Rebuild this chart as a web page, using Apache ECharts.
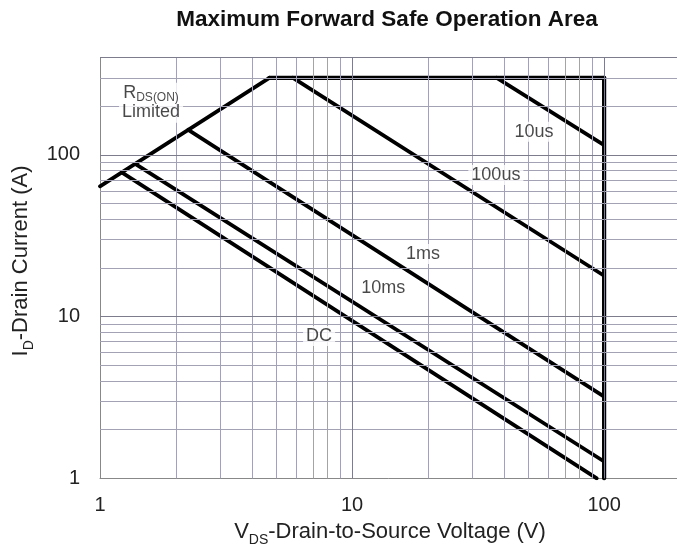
<!DOCTYPE html>
<html><head><meta charset="utf-8">
<script src="https://cdn.jsdelivr.net/npm/echarts@6/dist/echarts.min.js"></script>
<style>html,body{margin:0;padding:0;background:#fff}#c{width:677px;height:553px}</style>
</head><body><div id="c"></div>
<script>
// Axis tick labels
const xTickLabels = [1, 10, 100];
const yTickLabels = [1, 10, 100];
// Grid lines (log paper)
const xGridMinor = [2, 3, 4, 5, 6, 7, 8, 9, 20, 30, 40, 50, 60, 70, 80, 90];
const xGridMajor = [10, 100];
const yGridMinor = [2, 3, 4, 5, 6, 7, 8, 9, 20, 30, 40, 50, 60, 70, 80, 90, 200, 300];
const yGridMajor = [10, 100, 400];

// SOA boundary lines [V, A]
const rdsLimit = [[1, 64], [4.7, 300]];
const currentLimit = [[4.7, 300], [100, 300]];
const voltageLimit = [[100, 300], [100, 1]];
const pulse10us = [[37.5, 300], [100, 115]];
const pulse100us = [[5.83, 300], [100, 17.9]];
const pulse1ms = [[2.24, 143], [100, 3.2]];
const pulse10ms = [[1.38, 88], [100, 1.27]];
const dcLine = [[1.22, 78], [93.5, 1]];

// Curve annotations [V, A, text]
const curveLabels = [
  [52.7, 139, '10us'],
  [37.2, 75.2, '100us'],
  [19.1, 24.4, '1ms'],
  [13.3, 15.0, '10ms'],
  [7.4, 7.6, 'DC'],
  [1.594, 210, 'RDS']
];

const FONT = '"Liberation Sans", Arial, Helvetica, sans-serif';
const chart = echarts.init(document.getElementById('c'), null, {renderer: 'canvas'});

function gridSeries(vals, axis, color) {
  return {
    type: 'line', data: [], silent: true, z: 1,
    markLine: {
      silent: true, symbol: ['none', 'none'], animation: false,
      label: {show: false},
      lineStyle: {type: 'solid', width: 1, color: color},
      data: vals.map(v => (axis === 'x' ? {xAxis: v} : {yAxis: v}))
    }
  };
}
function curve(d, w) {
  return {
    type: 'line', data: d, symbol: 'none', z: 3, silent: true,
    lineStyle: {color: '#000', width: w || 3.8, cap: 'round', join: 'round'}
  };
}
const isTick = (list) => (v) => {
  const r = Math.round(v);
  return list.indexOf(r) >= 0 && Math.abs(v - r) < 1e-6 ? String(r) : '';
};

chart.setOption({
  animation: false,
  backgroundColor: '#fff',
  title: {
    text: 'Maximum Forward Safe Operation Area',
    left: 382, top: 3, textAlign: 'center',
    textStyle: {fontFamily: FONT, fontSize: 22.5, fontWeight: 'bold', color: '#111'}
  },
  grid: {left: 100, width: 580, top: 57.6, bottom: 74.7, containLabel: false, outerBoundsMode: 'none'},
  xAxis: {
    type: 'log', logBase: 10, min: 1, max: 200,
    axisLine: {lineStyle: {color: '#888', width: 1}},
    axisTick: {show: false},
    splitLine: {show: false},
    axisLabel: {formatter: isTick(xTickLabels), margin: 17, color: '#222', fontFamily: FONT, fontSize: 20},
    name: '{a|V}{s|DS}{a|-Drain-to-Source Voltage (V)}',
    nameLocation: 'middle', nameGap: 43,
    nameTextStyle: {
      rich: {
        a: {fontFamily: FONT, fontSize: 22, color: '#222', lineHeight: 24, verticalAlign: 'top'},
        s: {fontFamily: FONT, fontSize: 14, color: '#222', lineHeight: 14, padding: [12, 0, 0, 0], verticalAlign: 'top'}
      }
    }
  },
  yAxis: {
    type: 'log', logBase: 10, min: 1, max: 400,
    axisLine: {lineStyle: {color: '#888', width: 1}},
    axisTick: {show: false},
    splitLine: {show: false},
    axisLabel: {formatter: isTick(yTickLabels), margin: 20, color: '#222', fontFamily: FONT, fontSize: 20},
    name: '{a|I}{s|D}{a|-Drain Current (A)}',
    nameLocation: 'middle', nameGap: 66,
    nameTextStyle: {
      padding: [0, 0, 0, 14],
      rich: {
        a: {fontFamily: FONT, fontSize: 22, color: '#222', lineHeight: 24, verticalAlign: 'top'},
        s: {fontFamily: FONT, fontSize: 14, color: '#222', lineHeight: 14, padding: [12, 0, 0, 0], verticalAlign: 'top'}
      }
    }
  },
  series: [
    gridSeries(xGridMinor, 'x', '#a2a2b4'),
    gridSeries(yGridMinor, 'y', '#a2a2b4'),
    gridSeries(xGridMajor, 'x', '#7c7c8c'),
    gridSeries(yGridMajor, 'y', '#7c7c8c'),
    curve(rdsLimit),
    curve(currentLimit, 4.2),
    curve(voltageLimit, 4.2),
    curve(pulse10us),
    curve(pulse100us),
    curve(pulse1ms),
    curve(pulse10ms),
    curve(dcLine),
    {
      type: 'scatter', z: 5, silent: true,
      symbolSize: 1, itemStyle: {color: 'rgba(0,0,0,0)'},
      data: curveLabels.map(d => ({value: [d[0], d[1]], text: d[2]})),
      label: {
        show: true, position: 'inside',
        fontFamily: FONT, fontSize: 18, color: '#1a1a1a',
        backgroundColor: '#fff', padding: [1, 3],
        formatter: (p) => p.data.text === 'RDS'
          ? '{r|R}{s|DS(ON)}\n{l|Limited}'
          : p.data.text,
        rich: {
          r: {fontFamily: FONT, fontSize: 18, color: '#1a1a1a', lineHeight: 18, verticalAlign: 'top', align: 'center'},
          s: {fontFamily: FONT, fontSize: 12, color: '#1a1a1a', lineHeight: 12, padding: [8, 0, 0, 0], verticalAlign: 'top', align: 'center'},
          l: {fontFamily: FONT, fontSize: 18, color: '#1a1a1a', lineHeight: 20, align: 'center'}
        }
      }
    }
  ]
});
</script>
</body></html>
